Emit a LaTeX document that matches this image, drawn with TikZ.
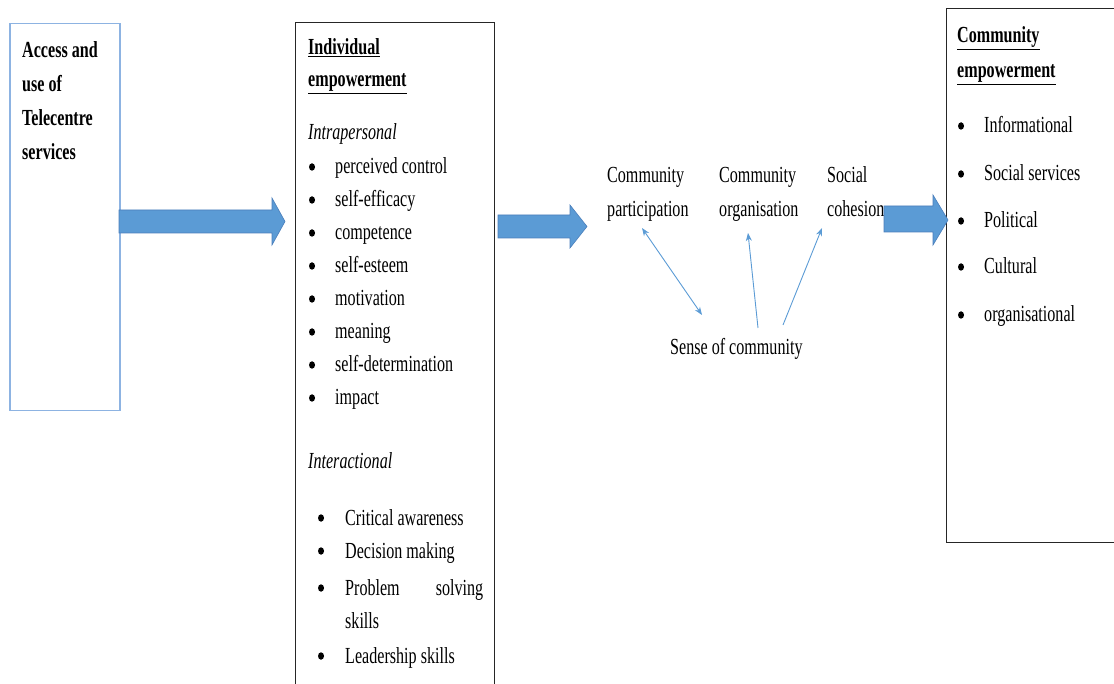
\documentclass[tikz,border=0pt]{standalone}
\usepackage{fontspec}
\setmainfont{Liberation Serif}[FakeStretch=0.70]
\usetikzlibrary{arrows.meta}

\definecolor{boxblue}{HTML}{8DB3E2}
\definecolor{arrowblue}{HTML}{5B9BD5}
\definecolor{arrowedge}{HTML}{4A7EBB}

\tikzset{
  txt/.style={anchor=base west, inner sep=0pt, font=\fontsize{23}{33}\selectfont},
  hdr/.style={txt, font=\fontsize{23}{33}\selectfont\bfseries},
  emph/.style={txt, font=\fontsize{23}{33}\selectfont\itshape},
  bul/.style={ellipse, fill=black, inner sep=0pt, minimum width=6pt, minimum height=7.5pt},
  frame/.style={draw=black!85, line width=1.2pt, anchor=north west, inner sep=0pt},
  fatarrow/.style={fill=arrowblue, draw=arrowedge, line width=0.6pt},
  link/.style={draw=arrowblue, line width=0.9pt, arrows={Stealth[length=8pt,width=6pt]-}},
}
\usetikzlibrary{shapes.geometric}

\begin{document}
\begin{tikzpicture}[x=1pt,y=-1pt]
    \useasboundingbox (0,0) rectangle (1114,684);
    \clip (0,0) rectangle (1114,684);

    % Boxes:
    % The middle and right boxes run past the edge of the page, as in the scan
    \node [draw=boxblue, line width=1.5pt, anchor=north west, inner sep=0pt,
           minimum width=110, minimum height=387] (access) at (9,23) {};
    \node [frame, minimum width=199, minimum height=680] (indiv) at (295,22) {};
    \node [frame, minimum width=180, minimum height=534] (commemp) at (946,8) {};

    % Left box text
    \foreach \w [count=\i] in {Access and, use of, Telecentre, services}
        \node [hdr] (access-\i) at (22,24+34*\i) {\w};

    % Individual empowerment
    \node [hdr] (indiv-t1) at (308,55) {\underline{Individual}};
    \node [hdr] (indiv-t2) at (308,87) {\underline{empowerment}};
    \node [emph] (intra) at (308,140) {Intrapersonal};
    \foreach \w [count=\i] in {perceived control, self-efficacy, competence,
        self-esteem, motivation, meaning, self-determination, impact}{%
        \node [bul] at (312,134+33*\i) {};
        \node [txt] (intra-\i) at (335,141+33*\i) {\w};
    }
    \node [emph] (inter) at (308,468) {Interactional};
    \foreach \w/\yy [count=\i] in {Critical awareness/525, Decision making/558,
        {\makebox[138pt][s]{Problem solving}}/595, Leadership skills/663}{%
        \node [bul] at (321,\yy-7) {};
        \node [txt] (inter-\i) at (345,\yy) {\w};
    }
    \node [txt] (inter-skills) at (345,628) {skills};

    % Community empowerment
    \node [hdr] (comm-t1) at (957,43) {\underline{Community}};
    \node [hdr] (comm-t2) at (957,78) {\underline{empowerment}};
    \foreach \w/\yy [count=\i] in {Informational/133, Social services/181,
        Political/228, Cultural/274, organisational/322}{%
        \node [bul] at (961,\yy-7) {};
        \node [txt] (comm-\i) at (984,\yy) {\w};
    }

    % Middle concepts
    \node [txt] (partic-1) at (607,183) {Community};
    \node [txt] (partic) at (607,217) {participation};
    \node [txt] (organ-1) at (719,183) {Community};
    \node [txt] (organ) at (719,217) {organisation};
    \node [txt] (cohes-1) at (827,183) {Social};
    \node [txt] (cohes) at (827,217) {cohesion};
    \node [txt] (sense) at (670,355) {Sense of community};

    % Block arrows
    \filldraw [fatarrow] (119,210) -- (272,210) -- (272,198) -- (285,221.5)
        -- (272,245) -- (272,233) -- (119,233) -- cycle;
    \filldraw [fatarrow] (498,215) -- (570,215) -- (570,205) -- (587,226.5)
        -- (570,248) -- (570,238) -- (498,238) -- cycle;
    \filldraw [fatarrow] (884,206) -- (933,206) -- (933,195) -- (948,220)
        -- (933,245) -- (933,232) -- (884,232) -- cycle;

    % Links to sense of community
    \coordinate (partic-end) at (642,228);
    \coordinate (organ-end) at (748,233);
    \coordinate (cohes-end) at (822,228);
    \coordinate (sense-a) at (702,315);
    \coordinate (sense-b) at (758,328);
    \coordinate (sense-c) at (783,325);
    \draw [link, arrows={Stealth[length=8pt,width=6pt]-Stealth[length=8pt,width=6pt]}] (partic-end) -- (sense-a);
    \draw [link] (organ-end) -- (sense-b);
    \draw [link] (cohes-end) -- (sense-c);
\end{tikzpicture}
\end{document}
